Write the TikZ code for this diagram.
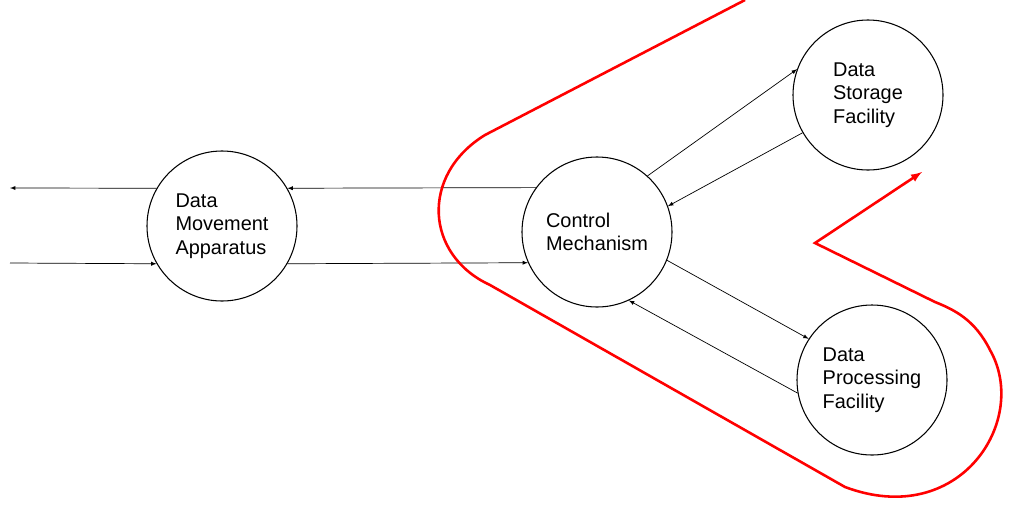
\documentclass[tikz,border=0pt]{standalone}
\usepackage{fontspec}
\setmainfont{Liberation Sans}
\begin{document}
\begin{tikzpicture}[x=0.03cm,y=-0.03cm,
  proc/.style={circle,draw,line width=0.9pt,minimum size=4.5cm,inner sep=0pt,align=left,font=\fontsize{17}{20}\selectfont},
  flow/.style={-latex,line width=0.6pt},
  redline/.style={red,line width=2.2pt}]
\useasboundingbox (0,0) rectangle (1024,522);
\node[proc] (dm) at (222,226) {Data\\Movement\\Apparatus};
\node[proc] (cm) at (597,232) {Control\\Mechanism};
\node[proc] (ds) at (868,95) {Data\\Storage\\Facility};
\node[proc] (dp) at (872,380) {Data\\Processing\\Facility};
\coordinate (lo) at (10,188);
\coordinate (li) at (10,263);
\draw[flow] (dm.150) -- (lo);
\draw[flow] (li) -- (dm.210);
\draw[flow] (cm.144) -- (dm.30);
\draw[flow] (dm.-30) -- (cm.204);
\draw[flow] (cm.48) -- (ds.160);
\draw[flow] (ds.210) -- (cm.20);
\draw[flow] (cm.-22) -- (dp.147);
\draw[flow] (dp.190) -- (cm.-65);
\draw[redline,-latex] (745,0) -- (485,135) .. controls (420,175) and (425,255) .. (490,285) -- (845,487) .. controls (960,530) and (1030,420) .. (990,350) .. controls (975,320) and (955,310) .. (935,302) -- (815,243) -- (922,172);
\end{tikzpicture}
\end{document}
